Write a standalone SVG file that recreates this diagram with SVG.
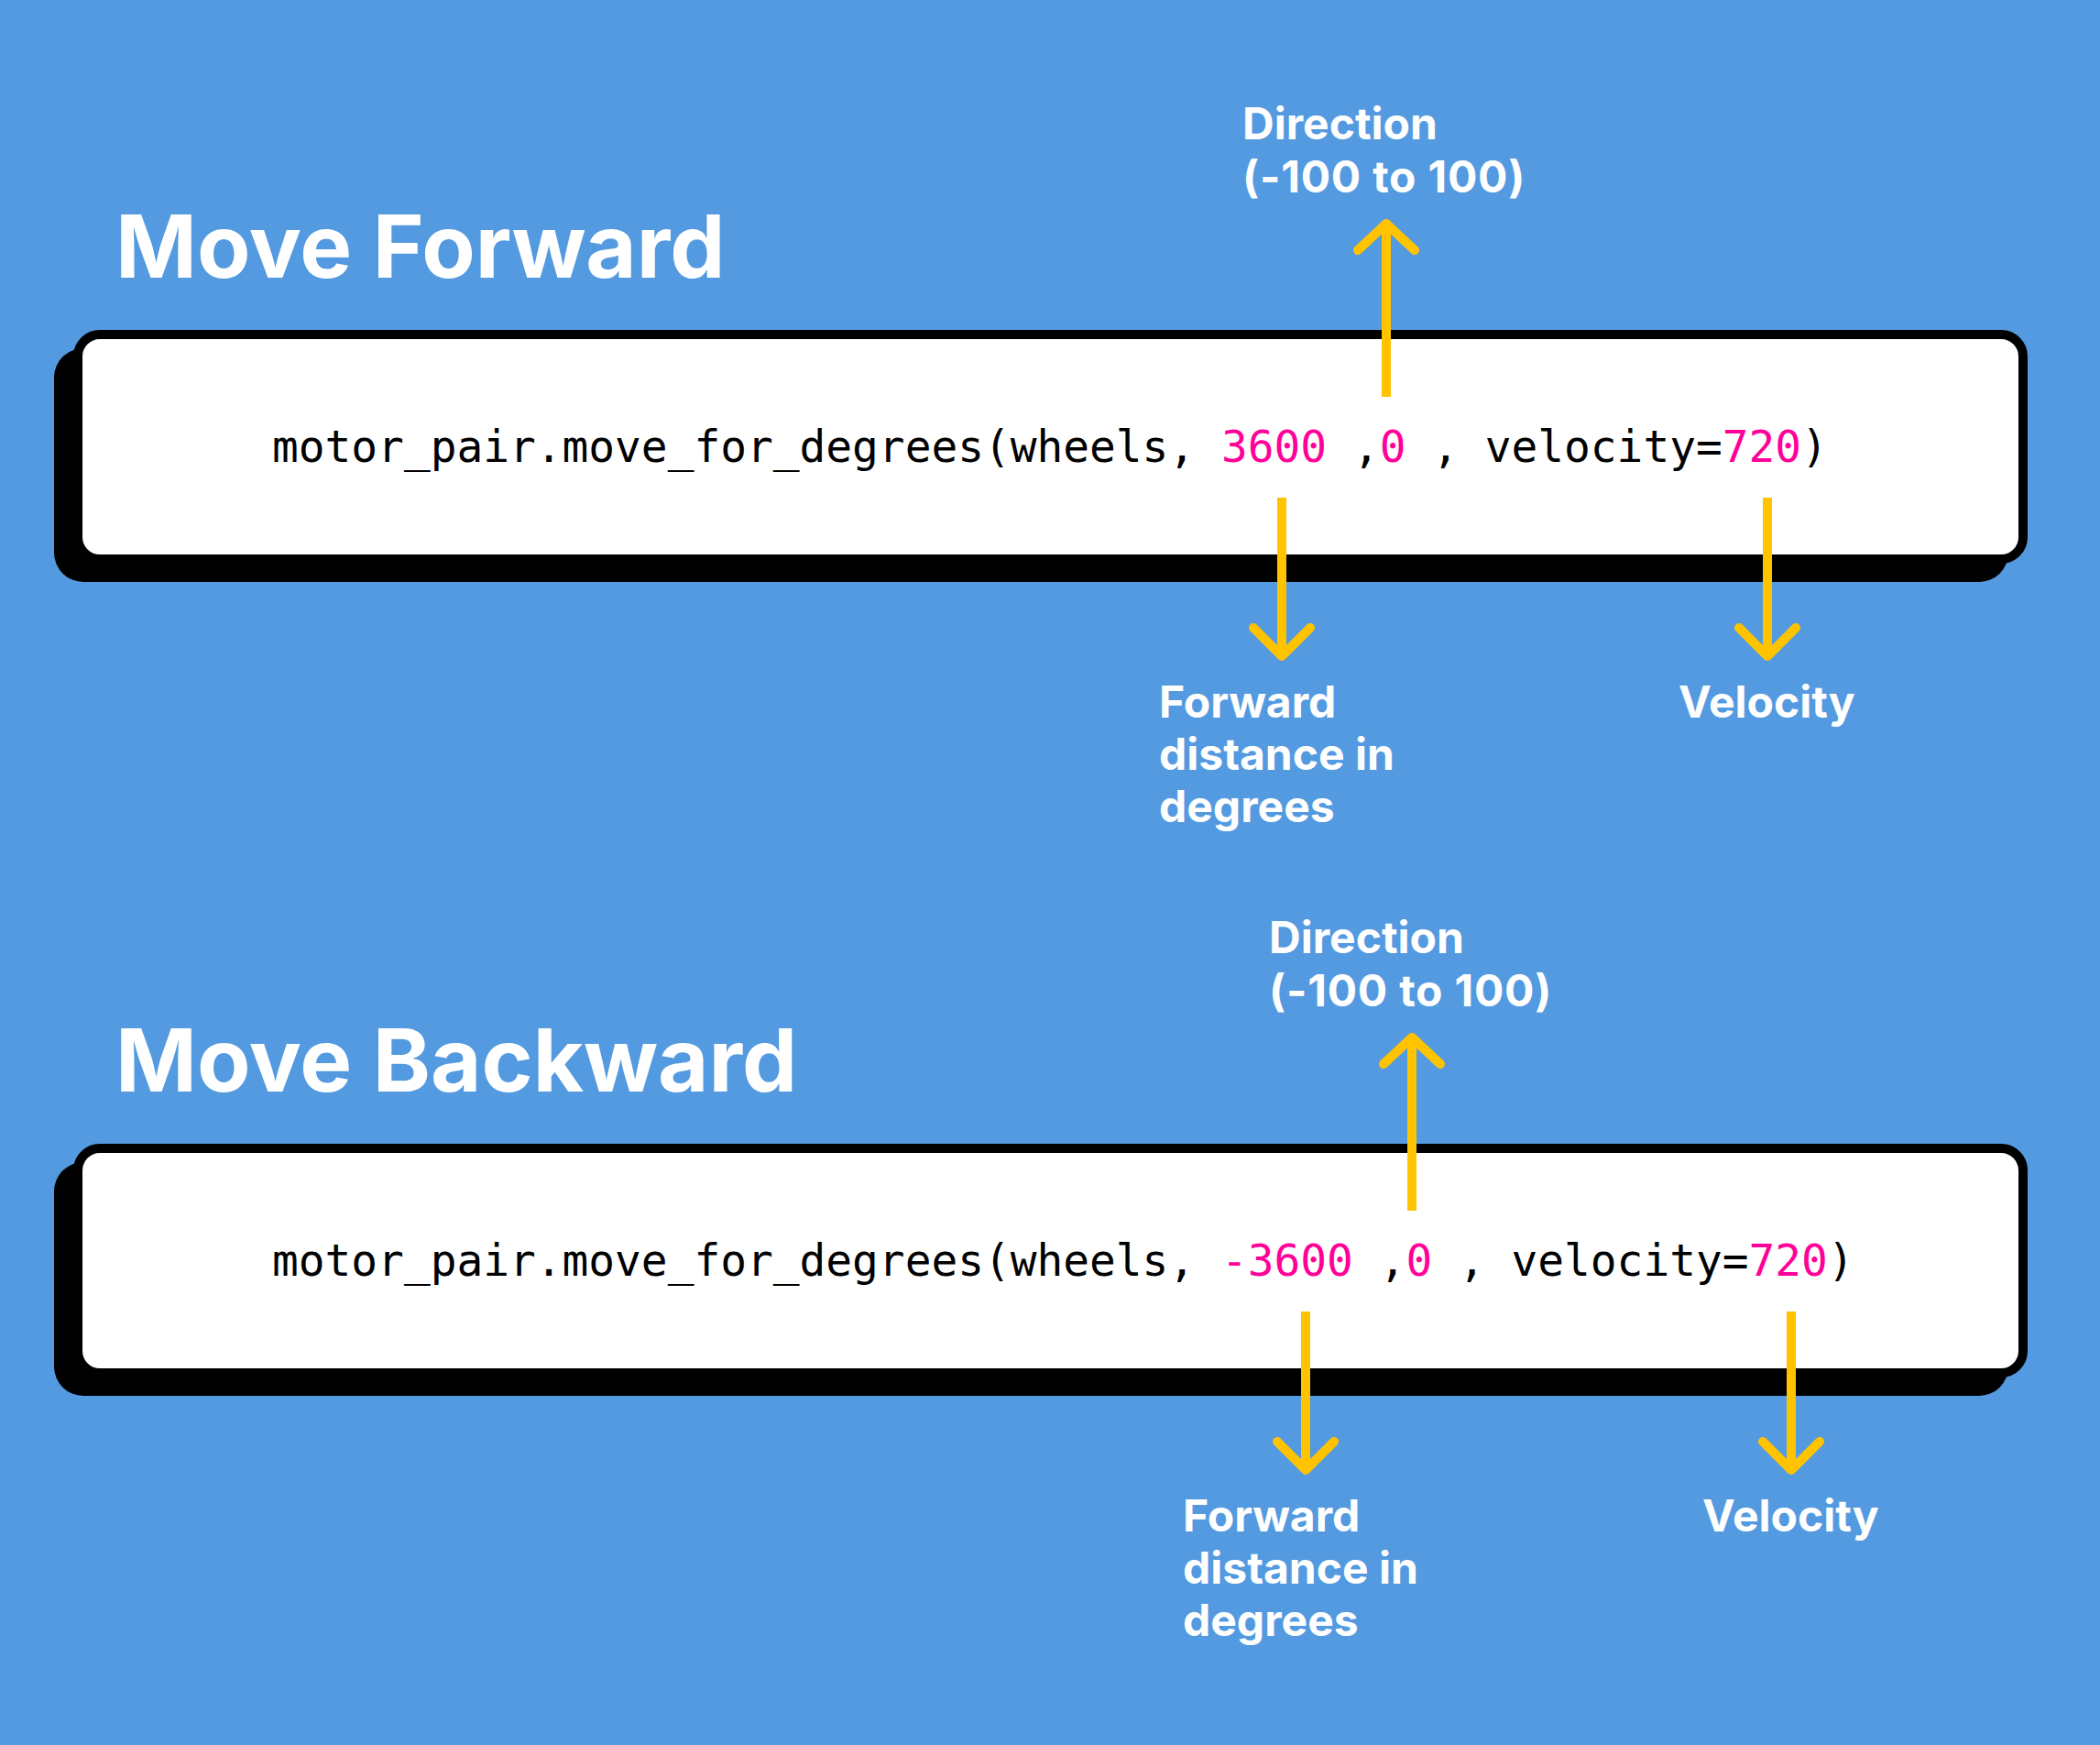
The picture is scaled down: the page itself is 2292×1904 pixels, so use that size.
<svg xmlns="http://www.w3.org/2000/svg" width="2292" height="1904" viewBox="0 0 2292 1904">
  <style>
    .title { font-family: Inter, "Liberation Sans", sans-serif; font-weight: 700; font-size: 95.5px; fill: #ffffff; }
    .label { font-family: Inter, "Liberation Sans", sans-serif; font-weight: 700; font-size: 48px; fill: #ffffff; }
    .range { letter-spacing: 0.8px; }
    .code { font-family: "DejaVu Sans Mono", "Liberation Mono", monospace; font-size: 47.8px; fill: #000000; }
    .num { fill: #FF0099; }
    .card { fill: #ffffff; stroke: #000000; stroke-width: 10; }
    .shadow { fill: #000000; }
    .shaft { stroke: #FFC300; stroke-width: 10; fill: none; stroke-linecap: butt; }
    .head { stroke: #FFC300; stroke-width: 10; fill: none; stroke-linecap: round; stroke-linejoin: round; }
  </style>
  <rect x="0" y="0" width="2292" height="1904" fill="#539AE0"/>

  <g id="section-forward">
    <text class="title" x="126" y="303">Move Forward</text>
    <g id="card-forward">
      <rect class="shadow" x="59" y="380" width="2133" height="255" rx="32"/>
      <rect class="card" x="85" y="365" width="2123" height="245" rx="24"/>
      <text class="code" x="297" y="504">motor_pair.move_for_degrees(wheels, <tspan class="num">3600</tspan> ,<tspan class="num">0</tspan> , velocity=<tspan class="num">720</tspan>)</text>
    </g>
    <g id="label-direction-1">
      <text class="label" x="1356" y="152">Direction</text>
      <text class="label range" x="1356" y="210">(-100 to 100)</text>
    </g>
    <g id="label-distance-1">
      <text class="label" x="1265" y="783">Forward</text>
      <text class="label" x="1265" y="840">distance in</text>
      <text class="label" x="1265" y="897">degrees</text>
    </g>
    <g id="label-velocity-1">
      <text class="label" x="1832" y="783">Velocity</text>
    </g>
  </g>

  <g id="section-backward">
    <text class="title" x="126" y="1191">Move Backward</text>
    <g id="card-backward">
      <rect class="shadow" x="59" y="1268" width="2133" height="255" rx="32"/>
      <rect class="card" x="85" y="1253" width="2123" height="245" rx="24"/>
      <text class="code" x="297" y="1392">motor_pair.move_for_degrees(wheels, <tspan class="num">-3600</tspan> ,<tspan class="num">0</tspan> , velocity=<tspan class="num">720</tspan>)</text>
    </g>
    <g id="label-direction-2">
      <text class="label" x="1385" y="1040">Direction</text>
      <text class="label range" x="1385" y="1098">(-100 to 100)</text>
    </g>
    <g id="label-distance-2">
      <text class="label" x="1291" y="1671">Forward</text>
      <text class="label" x="1291" y="1728">distance in</text>
      <text class="label" x="1291" y="1785">degrees</text>
    </g>
    <g id="label-velocity-2">
      <text class="label" x="1858" y="1671">Velocity</text>
    </g>
  </g>

  <g id="connectors">
    <line class="shaft" x1="1513" y1="433" x2="1513" y2="245"/>
    <polyline class="head" points="1482,273 1513,244 1544,273"/>
    <line class="shaft" x1="1399" y1="543" x2="1399" y2="714"/>
    <polyline class="head" points="1368,685 1399,716 1430,685"/>
    <line class="shaft" x1="1929" y1="543" x2="1929" y2="714"/>
    <polyline class="head" points="1898,685 1929,716 1960,685"/>

    <line class="shaft" x1="1541" y1="1321" x2="1541" y2="1133"/>
    <polyline class="head" points="1510,1161 1541,1132 1572,1161"/>
    <line class="shaft" x1="1425" y1="1431" x2="1425" y2="1602"/>
    <polyline class="head" points="1394,1573 1425,1604 1456,1573"/>
    <line class="shaft" x1="1955" y1="1431" x2="1955" y2="1602"/>
    <polyline class="head" points="1924,1573 1955,1604 1986,1573"/>
  </g>
</svg>
